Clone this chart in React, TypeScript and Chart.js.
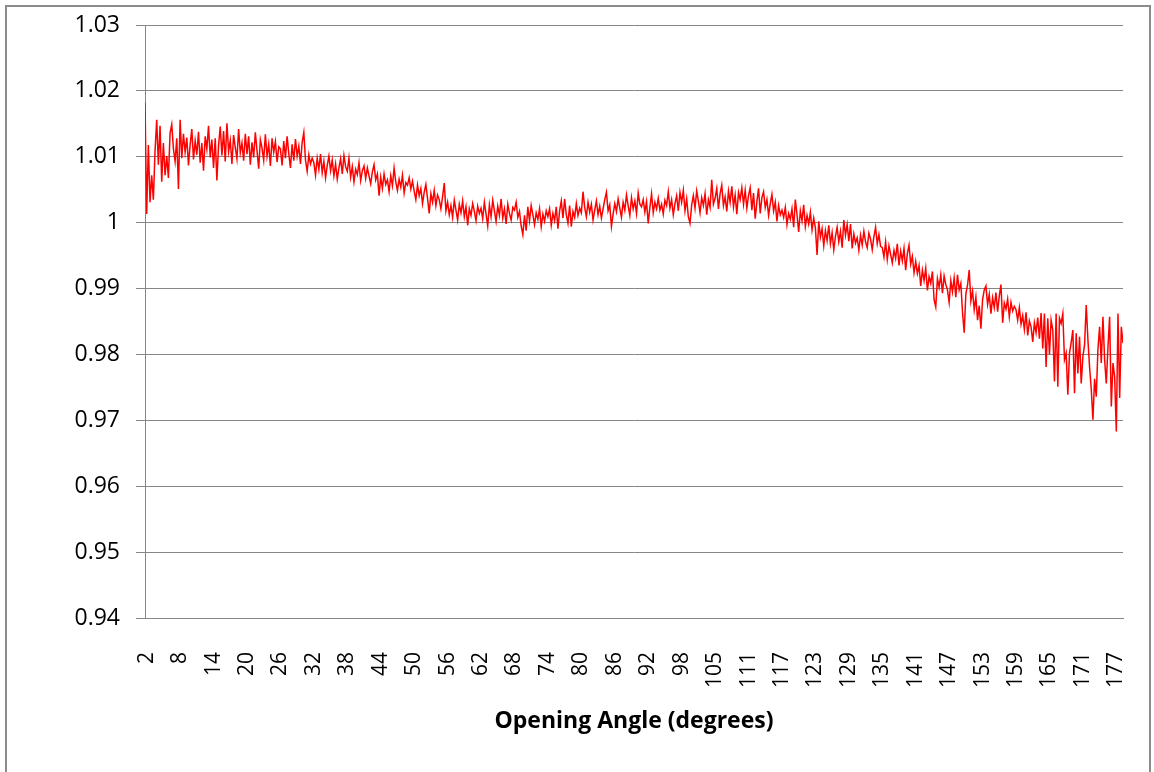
import { useEffect, useRef } from 'react';
import { Chart, registerables } from 'chart.js';

Chart.register(...registerables);

// Ratio values, in order of opening angle (one point per category)
const ratioSegA = [
  1.0182,
  1.0013, 1.0118, 1.0031, 1.0072, 1.0035, 1.0108, 1.0156, 1.0088, 1.0147, 1.0062, 1.0121, 1.0072, 1.0101, 1.0068, 1.0136, 1.0149, 1.0112, 1.0093, 1.0128, 1.0051,
  1.0156, 1.0098, 1.0135, 1.0107, 1.0129, 1.0087, 1.0118, 1.0142, 1.0096, 1.0124, 1.0103, 1.0138, 1.0091, 1.0121, 1.0079, 1.0131, 1.0112, 1.0147, 1.0099, 1.0126,
  1.0083, 1.0128, 1.0064, 1.0117, 1.0146, 1.0102, 1.0139, 1.0093, 1.0151, 1.0108, 1.0125, 1.0089, 1.0133, 1.0114, 1.0097, 1.0142, 1.0106, 1.0121, 1.0094, 1.0135,
  1.0104, 1.0131, 1.0088, 1.0122, 1.0099, 1.0137, 1.0109, 1.0082, 1.0126, 1.0113, 1.0095, 1.0134, 1.0101, 1.0119, 1.0086, 1.0128, 1.0107, 1.0123, 1.0092, 1.0115,
  1.0112, 1.0087, 1.0124, 1.0098, 1.0131, 1.0105, 1.0083, 1.0119, 1.0094, 1.0127, 1.0101, 1.0116, 1.0089, 1.0122, 1.0137, 1.0095, 1.0078, 1.0103, 1.0089, 1.0098,
];

const ratioSegB = [
  1.0091, 1.0072, 1.0098, 1.0081, 1.0104, 1.0076, 1.0093, 1.0068, 1.0087, 1.0101, 1.0079, 1.0095, 1.0071, 1.0089, 1.0066, 1.0083, 1.0097, 1.0074, 1.0102, 1.0085,
  1.0078, 1.0098, 1.0069, 1.0085, 1.0062, 1.0081, 1.0073, 1.0091, 1.0064, 1.0079, 1.0086, 1.0067, 1.0083, 1.0071, 1.0059, 1.0077, 1.0088, 1.0065, 1.0074, 1.0041,
  1.0069, 1.0052, 1.0074, 1.0058, 1.0065, 1.0047, 1.0071, 1.0056, 1.0083, 1.0062, 1.0049, 1.0066, 1.0054, 1.0072, 1.0045, 1.0061, 1.0057, 1.0068, 1.0051, 1.0063,
  1.0048, 1.0035, 1.0057, 1.0041, 1.0052, 1.0029, 1.0046, 1.0058, 1.0037, 1.0014, 1.0044, 1.0031, 1.0049, 1.0026, 1.0042, 1.0035, 1.0021, 1.0039, 1.0060, 1.0018,
  1.0031, 1.0012, 1.0026, 1.0008, 1.0034, 1.0019, 1.0004, 1.0028, 1.0015, 1.0033, 1.0009, 1.0024, 0.9996, 1.0021, 1.0011, 1.0029, 1.0017, 1.0003, 1.0025, 1.0014,
];

const ratioSegC = [
  1.0022, 1.0006, 1.0031, 1.0013, 0.9995, 1.0027, 1.0009, 1.0034, 1.0018, 1.0002, 1.0025, 1.0011, 1.0036, 1.0007, 1.0021, 0.9998, 1.0028, 1.0014, 1.0004, 1.0023,
  1.0019, 1.0031, 1.0008, 1.0017, 0.9995, 0.9982, 1.0011, 0.9988, 1.0024, 1.0003, 1.0026, 1.0012, 0.9997, 1.0015, 1.0005, 1.0021, 0.9994, 1.0013, 1.0002, 1.0018,
  1.0009, 1.0021, 0.9996, 1.0014, 1.0003, 1.0024, 0.9991, 1.0018, 1.0033, 1.0007, 1.0036, 1.0012, 0.9999, 1.0026, 0.9994, 1.0017, 1.0008, 1.0029, 1.0011, 1.0022,
  1.0015, 1.0047, 1.0023, 1.0009, 1.0031, 1.0016, 1.0028, 1.0004, 1.0019, 1.0033, 1.0012, 1.0025, 1.0007, 1.0021, 1.0035, 1.0046, 1.0018, 1.0027, 0.9994, 1.0013,
  1.0029, 1.0017, 1.0036, 1.0022, 1.0008, 1.0031, 1.0019, 1.0042, 1.0026, 1.0011, 1.0038, 1.0021, 1.0033, 1.0014, 1.0045, 1.0028, 1.0024, 1.0035, 1.0016, 1.0032,
];

const ratioSegD = [
  0.9999, 1.0023, 1.0044, 1.0015, 1.0031, 1.0021, 1.0037, 1.0019, 1.0028, 1.0013, 1.0034, 1.0026, 1.0047, 1.0022, 1.0035, 1.0012, 1.0029, 1.0041, 1.0018, 1.0046,
  1.0031, 1.0049, 1.0018, 1.0036, 1.0009, 0.9999, 1.0027, 1.0041, 1.0022, 1.0048, 1.0033, 1.0015, 1.0038, 1.0026, 1.0044, 1.0012, 1.0035, 1.0023, 1.0065, 1.0028,
  1.0037, 1.0052, 1.0021, 1.0044, 1.0057, 1.0026, 1.0039, 1.0017, 1.0048, 1.0031, 1.0055, 1.0024, 1.0042, 1.0013, 1.0046, 1.0035, 1.0053, 1.0028, 1.0049, 1.0022,
  1.0041, 1.0053, 1.0019, 1.0045, 1.0006, 1.0032, 1.0052, 1.0014, 1.0038, 1.0047, 1.0023, 1.0035, 1.0011, 1.0029, 1.0043, 1.0018, 1.0031, 1.0002, 1.0026, 1.0012,
  1.0019, 1.0008, 1.0023, 0.9997, 1.0014, 1.0005, 1.0021, 0.9993, 1.0035, 1.0012, 0.9986, 1.0018, 1.0003, 1.0027, 0.9994, 1.0011, 0.9998, 1.0016, 0.9989, 1.0007,
];

const ratioSegE = [
  0.9992, 0.9951, 1.0002, 0.9978, 0.9991, 0.9965, 0.9988, 0.9973, 0.9996, 0.9968, 0.9985, 0.9959, 0.9979, 0.9993, 0.9971, 0.9987, 0.9962, 1.0004, 0.9981, 0.9997,
  0.9972, 0.9998, 0.9961, 0.9983, 0.9969, 0.9977, 0.9958, 0.9981, 0.9966, 0.9987, 0.9971, 0.9962, 0.9984, 0.9975, 0.9959, 0.9979, 0.9993, 0.9968, 0.9982, 0.9964,
  0.9962, 0.9948, 0.9971, 0.9944, 0.9965, 0.9952, 0.9939, 0.9958, 0.9946, 0.9968, 0.9935, 0.9957, 0.9942, 0.9961, 0.9928, 0.9953, 0.9966, 0.9937, 0.9949, 0.9924,
  0.9941, 0.9923, 0.9935, 0.9904, 0.9928, 0.9912, 0.9931, 0.9897, 0.9918, 0.9908, 0.9926, 0.9883, 0.9872, 0.9915, 0.9902, 0.9921, 0.9893, 0.9919, 0.9906, 0.9898,
  0.9879, 0.9912, 0.9895, 0.9916, 0.9887, 0.9921, 0.9898, 0.9908, 0.9864, 0.9833, 0.9892, 0.9905, 0.9928, 0.9881, 0.9896, 0.9868, 0.9887, 0.9852, 0.9874, 0.9839,
];

const ratioSegF = [
  0.9883, 0.9898, 0.9904, 0.9876, 0.9891, 0.9862, 0.9886, 0.9871, 0.9894, 0.9865, 0.9889, 0.9906, 0.9848, 0.9878, 0.9869, 0.9884, 0.9857, 0.9879, 0.9866, 0.9873,
  0.9868, 0.9852, 0.9871, 0.9846, 0.9859, 0.9838, 0.9864, 0.9829, 0.9851, 0.9842, 0.9819, 0.9848, 0.9833, 0.9856, 0.9824, 0.9863, 0.9809, 0.9862, 0.9781, 0.9855,
  0.9800, 0.9852, 0.9837, 0.9759, 0.9862, 0.9751, 0.9855, 0.9847, 0.9862, 0.9792, 0.9802, 0.9739, 0.9802, 0.9818, 0.9837, 0.9741, 0.9832, 0.9771, 0.9827, 0.9756,
  0.9797, 0.9814, 0.9875, 0.9823, 0.9781, 0.9748, 0.9701, 0.9763, 0.9736, 0.9808, 0.9842, 0.9787, 0.9857, 0.9792, 0.9756, 0.9811, 0.9857, 0.9721, 0.9787, 0.9766,
  0.9683, 0.9862, 0.9734, 0.9842, 0.9817,
];

// Category tick labels shown on the x axis (every 20th category, starting at category 1)
const xTickLabels = ['2', '8', '14', '20', '26', '32', '38', '44', '50', '56', '62', '68', '74', '80', '86', '92', '98', '105', '111', '117', '123', '129', '135', '141', '147', '153', '159', '165', '171', '177'];
const xTickFirstCategory = 1;
const xTickEvery = 20;

const yTickValues = [0.94, 0.95, 0.96, 0.97, 0.98, 0.99, 1, 1.01, 1.02, 1.03];
const yTickLabels = ['0.94', '0.95', '0.96', '0.97', '0.98', '0.99', '1', '1.01', '1.02', '1.03'];

const xAxisTitle = 'Opening Angle (degrees)';

const ratioValues = [...ratioSegA, ...ratioSegB, ...ratioSegC, ...ratioSegD, ...ratioSegE, ...ratioSegF];
const categoryIndex = ratioValues.map((_, i) => i);

const W = 1154;
const H = 772;
const GRID = '#868686';
const FONT = '"Open Sans", Lato, sans-serif';

const zeroPadding = (scale: any) => {
  scale.paddingTop = 0;
  scale.paddingBottom = 0;
  scale.paddingLeft = 0;
  scale.paddingRight = 0;
};

export default function App() {
  const ref = useRef<HTMLCanvasElement | null>(null);

  useEffect(() => {
    if (!ref.current) return;
    const chart = new Chart(ref.current, {
      type: 'line',
      data: {
        labels: categoryIndex,
        datasets: [
          {
            data: ratioValues,
            borderColor: '#FF0000',
            borderWidth: 1.5,
            pointRadius: 0,
            fill: false,
            tension: 0,
          },
        ],
      },
      options: {
        animation: false,
        responsive: false,
        maintainAspectRatio: false,
        layout: { padding: { left: 0, right: 31, top: 25, bottom: 0 } },
        plugins: { legend: { display: false }, tooltip: { enabled: false }, title: { display: false } },
        scales: {
          x: {
            type: 'linear',
            min: 0,
            max: ratioValues.length - 1,
            afterBuildTicks: (scale: any) => {
              scale.ticks = xTickLabels.map((_, i) => ({ value: xTickFirstCategory + i * xTickEvery }));
            },
            afterFit: (scale: any) => {
              scale.height = H - 618;
              zeroPadding(scale);
            },
            grid: { display: false },
            border: { display: true, color: GRID, width: 1 },
            ticks: {
              autoSkip: false,
              maxRotation: 90,
              minRotation: 90,
              padding: 26,
              color: '#000',
              font: { family: FONT, size: 21 },
              callback: (_v: any, i: number) => xTickLabels[i],
            },
            title: {
              display: true,
              text: xAxisTitle,
              color: '#000',
              font: { family: FONT, size: 23, weight: 'bold' },
              padding: { top: 0, bottom: 37 },
            },
          },
          y: {
            min: 0.94,
            max: 1.03,
            afterBuildTicks: (scale: any) => {
              scale.ticks = yTickValues.map((v) => ({ value: v }));
            },
            afterFit: (scale: any) => {
              scale.width = 145;
              zeroPadding(scale);
            },
            grid: { color: GRID, lineWidth: 1, tickLength: 9, drawTicks: true },
            border: { display: true, color: GRID, width: 1 },
            ticks: {
              padding: 16,
              color: '#000',
              font: { family: FONT, size: 23 },
              callback: (_v: any, i: number) => yTickLabels[i],
            },
          },
        },
      },
    });
    return () => chart.destroy();
  }, []);

  return (
    <div style={{ position: 'fixed', left: 0, top: 0, width: W, height: H, background: '#fff' }}>
      <canvas ref={ref} width={W} height={H} style={{ display: 'block', width: W, height: H }} />
      <div
        style={{
          position: 'absolute',
          left: 5,
          top: 5,
          width: 1146,
          height: 820,
          border: '2px solid #8c8c8c',
          boxSizing: 'border-box',
          pointerEvents: 'none',
        }}
      />
    </div>
  );
}
